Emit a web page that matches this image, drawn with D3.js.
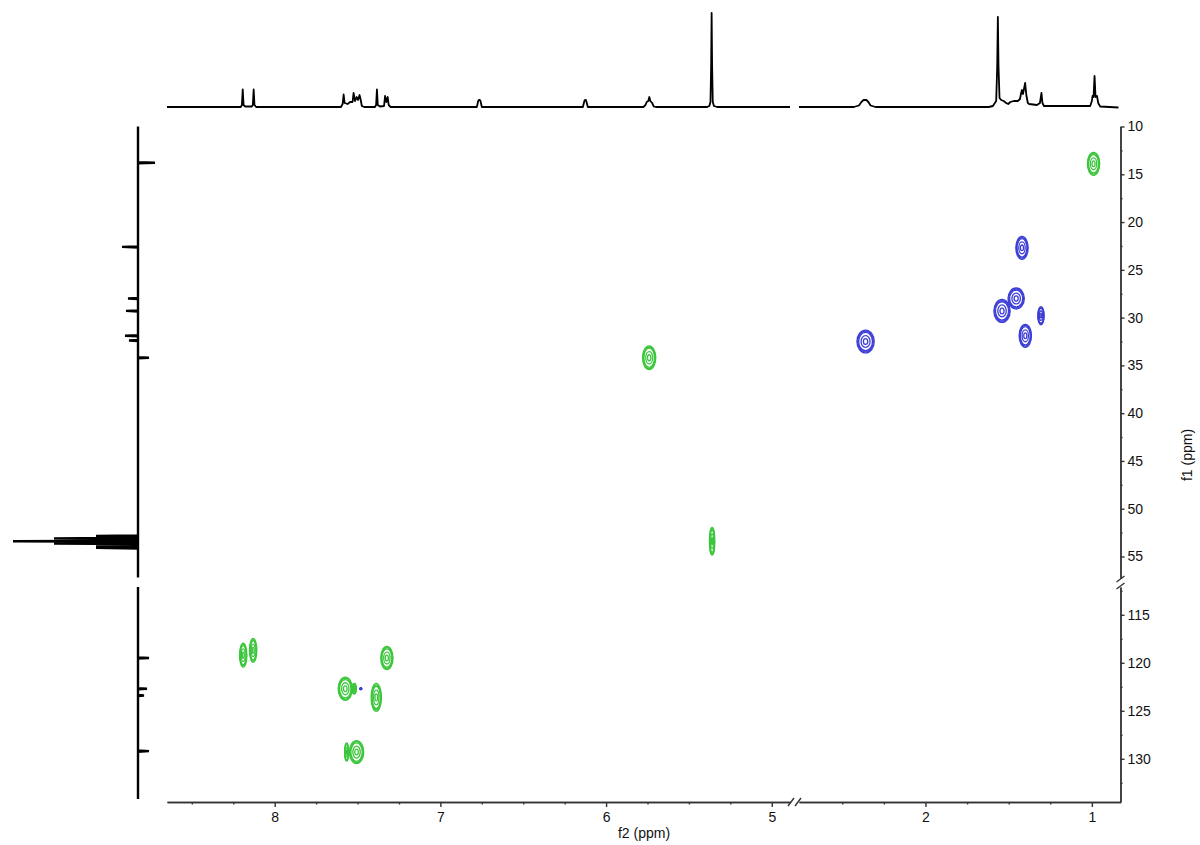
<!DOCTYPE html>
<html lang="en">
<head>
    <meta charset="UTF-8">
    <title>HSQC</title>
    <script src="https://d3js.org/d3.v7.min.js"></script>
    <style type="text/css">
        body {
            margin: 0;
            background-color: #ffffff;
        }

        .axis path, .axis line {
            stroke: #333333;
            stroke-width: 1.4px;
        }

        .axis text {
            font-family: "Liberation Sans", Arial, sans-serif;
            font-size: 14px;
            fill: #111111;
        }

        .trace {
            fill: none;
            stroke: #000000;
            stroke-width: 1.8px;
            stroke-linejoin: round;
        }

        .trace-left {
            fill: none;
            stroke: #000000;
            stroke-width: 2.4px;
        }

        .label {
            font-family: "Liberation Sans", Arial, sans-serif;
            font-size: 14px;
            fill: #111111;
            text-anchor: middle;
        }

        .brk {
            stroke: #333333;
            stroke-width: 1.4px;
        }
    </style>
</head>
<body>
    <script type="text/javascript">
        //CONSTANTS & GLOBALS
        const width = 1200;
        const height = 845;

        //TICKS (ppm)
        const f2MajorLeft = [8, 7, 6, 5];
        const f2MinorLeft = [8.5, 8.25, 7.75, 7.5, 7.25, 6.75, 6.5, 6.25, 5.75, 5.5, 5.25];
        const f2MajorRight = [2, 1];
        const f2MinorRight = [2.5, 2.25, 1.75, 1.5, 1.25];
        const f1MajorTop = [10, 15, 20, 25, 30, 35, 40, 45, 50, 55];
        const f1MinorTop = [12.5, 17.5, 22.5, 27.5, 32.5, 37.5, 42.5, 47.5, 52.5];
        const f1MajorBot = [115, 120, 125, 130];
        const f1MinorBot = [112.5, 117.5, 122.5, 127.5, 132.5];

        //1H TRACE ON TOP [ppm, intensity]
        const protonTrace = [
            [8.65, 0], [8.205, 0], [8.198, 2], [8.193, 17.5], [8.188, 2], [8.178, 0.5],
            [8.138, 0.5], [8.132, 2], [8.127, 17.5], [8.122, 2], [8.112, 0],
            [7.60, 0], [7.590, 3], [7.584, 12.5], [7.578, 4], [7.560, 3], [7.545, 5],
            [7.530, 5], [7.524, 14], [7.515, 6], [7.505, 10], [7.497, 7], [7.488, 12],
            [7.482, 8], [7.474, 1], [7.46, 0],
            [7.395, 0], [7.388, 2], [7.383, 17.5], [7.378, 2], [7.365, 0.5], [7.340, 1],
            [7.334, 11], [7.326, 5], [7.318, 10], [7.312, 2], [7.30, 0],
            [6.78, 0], [6.772, 6], [6.768, 7], [6.762, 7], [6.758, 6], [6.75, 0],
            [6.14, 0], [6.131, 6], [6.127, 7], [6.122, 7], [6.118, 5], [6.11, 0],
            [5.775, 0], [5.762, 2], [5.755, 5], [5.745, 6], [5.739, 10], [5.733, 6],
            [5.722, 4], [5.712, 0.5], [5.70, 0],
            [5.39, 0], [5.377, 1], [5.370, 5], [5.366, 40], [5.363, 94], [5.360, 40],
            [5.356, 5], [5.349, 1], [5.33, 0], [4.89, 0],
            [2.76, 0], [2.43, 0], [2.40, 1.5], [2.385, 5], [2.372, 7], [2.355, 7],
            [2.343, 5], [2.33, 1.5], [2.30, 0],
            [1.62, 0], [1.595, 1], [1.575, 6], [1.569, 40], [1.565, 90], [1.561, 40],
            [1.555, 9], [1.545, 7], [1.530, 6], [1.515, 4], [1.503, 3], [1.49, 5],
            [1.47, 6], [1.445, 6], [1.432, 8], [1.425, 14], [1.420, 17], [1.414, 13],
            [1.408, 18], [1.401, 24], [1.394, 12], [1.385, 4], [1.377, 3], [1.33, 2],
            [1.312, 4], [1.303, 14], [1.297, 4], [1.288, 1], [1.01, 1], [1.000, 6],
            [0.996, 11], [0.99, 10], [0.984, 31], [0.978, 10], [0.969, 11], [0.962, 4],
            [0.95, 0.5], [0.84, -0.5]
        ];

        //13C SPIKES ON THE LEFT [ppm, intensity]
        const carbonPeaks = [
            [13.8, -17], [22.6, 16], [28.0, 10], [29.3, 12], [31.9, 13], [32.4, 9], [34.2, -11],
            [52.85, 42], [53.1, 84], [53.4, 125], [53.65, 84], [53.95, 42], [54.1, 42],
            [119.5, -11], [122.7, -9], [123.4, -6], [129.2, -11]
        ];

        //CROSS PEAKS [f2, f1, half width f2, half width f1]
        const greenPeaks = [
            [0.99, 13.9, 0.037, 1.2],
            [5.74, 34.2, 0.04, 1.25],
            [5.36, 53.4, 0.016, 1.45],
            [8.19, 119.2, 0.022, 1.25],
            [8.13, 118.7, 0.022, 1.25],
            [7.323, 119.5, 0.037, 1.2],
            [7.574, 122.7, 0.043, 1.2],
            [7.52, 122.7, 0.012, 0.55],
            [7.387, 123.6, 0.031, 1.45],
            [7.506, 129.3, 0.043, 1.2],
            [7.566, 129.3, 0.012, 0.95]
        ];

        const bluePeaks = [
            [7.48, 122.7, 0.006, 0.1],
            [1.42, 22.7, 0.037, 1.2],
            [1.455, 28.0, 0.049, 1.1],
            [1.54, 29.3, 0.049, 1.2],
            [1.306, 29.8, 0.019, 0.95],
            [1.40, 31.9, 0.037, 1.2],
            [2.36, 32.5, 0.052, 1.2]
        ];

        const levels = [1, 0.9, 0.8, 0.52, 0.25];

        //SCALES (broken axes: two pieces each)
        const xLeft = d3.scaleLinear().domain([8.65, 4.89]).range([167, 790]);
        const xRight = d3.scaleLinear().domain([2.76, 0.828]).range([799, 1120.5]);
        const yTop = d3.scaleLinear().domain([10, 57.25]).range([126.5, 578]);
        const yBot = d3.scaleLinear().domain([112.1, 134.5]).range([587, 802]);
        const hScale = d3.scaleLinear().domain([0, 94]).range([107, 13]);
        const cScale = d3.scaleLinear().domain([0, 125]).range([138, 13]);

        const fx = p => p > 4 ? xLeft(p) : xRight(p);
        const fy = p => p < 80 ? yTop(p) : yBot(p);
        const fmt = d3.format("d");

        //CREATE SVG
        const svg = d3.select("body")
            .append("svg")
            .attr("width", width)
            .attr("height", height);

        //TOP 1H TRACE
        const topLine = d3.line()
            .x(d => fx(d[0]))
            .y(d => hScale(d[1]));

        svg.append("path")
            .attr("class", "trace")
            .attr("d", topLine(protonTrace.filter(d => d[0] > 4)));

        svg.append("path")
            .attr("class", "trace")
            .attr("d", topLine(protonTrace.filter(d => d[0] < 4)));

        //LEFT 13C TRACE
        const leftLine = d3.line()
            .x(d => cScale(d[1]))
            .y(d => fy(d[0]));

        function spikes(lo, hi) {
            const pts = [[lo, 0]];
            carbonPeaks.filter(d => d[0] > lo && d[0] < hi).forEach(d => {
                pts.push([d[0] - 0.06, 0], [d[0], d[1]], [d[0] + 0.06, 0]);
            });
            pts.push([hi, 0]);
            return pts;
        }

        svg.append("path").attr("class", "trace-left").attr("d", leftLine(spikes(10, 57.2)));
        svg.append("path").attr("class", "trace-left").attr("d", leftLine(spikes(112.1, 134.2)));

        //CROSS PEAKS AS NESTED CONTOUR RINGS
        function drawPeaks(list, color) {
            list.forEach(p => {
                const cx = fx(p[0]);
                const cy = fy(p[1]);
                const rx = Math.abs(fx(p[0] + p[2]) - cx);
                const ry = Math.abs(fy(p[1] + p[3]) - cy);
                svg.append("g").selectAll("ellipse")
                    .data(levels)
                    .join("ellipse")
                    .attr("cx", cx)
                    .attr("cy", cy)
                    .attr("rx", l => Math.max(rx * l, 0.6))
                    .attr("ry", l => Math.max(ry * l, 0.6))
                    .attr("fill", "none")
                    .attr("stroke", color)
                    .attr("stroke-width", 1.3);
            });
        }

        drawPeaks(greenPeaks, "#3cc63c");
        drawPeaks(bluePeaks, "#3d3dd6");

        //X-AXIS (f2)
        svg.append("g").attr("class", "axis")
            .attr("transform", "translate(0,802)")
            .call(d3.axisBottom(xLeft).tickValues(f2MajorLeft).tickFormat(fmt).tickSize(5).tickSizeOuter(0).tickPadding(5));
        svg.append("g").attr("class", "axis")
            .attr("transform", "translate(0,802)")
            .call(d3.axisBottom(xLeft).tickValues(f2MinorLeft).tickSize(2.5).tickSizeOuter(0).tickFormat(""));
        svg.append("g").attr("class", "axis")
            .attr("transform", "translate(0,802)")
            .call(d3.axisBottom(xRight).tickValues(f2MajorRight).tickFormat(fmt).tickSize(5).tickSizeOuter(0).tickPadding(5));
        svg.append("g").attr("class", "axis")
            .attr("transform", "translate(0,802)")
            .call(d3.axisBottom(xRight).tickValues(f2MinorRight).tickSize(2.5).tickSizeOuter(0).tickFormat(""));

        //Y-AXIS (f1)
        svg.append("g").attr("class", "axis")
            .attr("transform", "translate(1120.5,0)")
            .call(d3.axisRight(yTop).tickValues(f1MajorTop).tickFormat(fmt).tickSize(4).tickSizeOuter(0));
        svg.append("g").attr("class", "axis")
            .attr("transform", "translate(1120.5,0)")
            .call(d3.axisRight(yTop).tickValues(f1MinorTop).tickSize(2).tickSizeOuter(0).tickFormat(""));
        svg.append("g").attr("class", "axis")
            .attr("transform", "translate(1120.5,0)")
            .call(d3.axisRight(yBot).tickValues(f1MajorBot).tickFormat(fmt).tickSize(4).tickSizeOuter(0));
        svg.append("g").attr("class", "axis")
            .attr("transform", "translate(1120.5,0)")
            .call(d3.axisRight(yBot).tickValues(f1MinorBot).tickSize(2).tickSizeOuter(0).tickFormat(""));

        //BREAK MARKS
        [xLeft.range()[1] + 1, xRight.range()[0] - 1].forEach(x => {
            svg.append("line").attr("class", "brk")
                .attr("x1", x - 3).attr("y1", 806).attr("x2", x + 3).attr("y2", 798);
        });
        [yTop.range()[1] + 1, yBot.range()[0] - 1].forEach(y => {
            svg.append("line").attr("class", "brk")
                .attr("x1", 1116.5).attr("y1", y + 3).attr("x2", 1124.5).attr("y2", y - 3);
        });

        //AXIS LABELS
        svg.append("text")
            .attr("class", "label")
            .attr("x", 644)
            .attr("y", 838)
            .text("f2 (ppm)");

        svg.append("text")
            .attr("class", "label")
            .attr("transform", "translate(1192,455) rotate(-90)")
            .text("f1 (ppm)");
    </script>
</body>
</html>
